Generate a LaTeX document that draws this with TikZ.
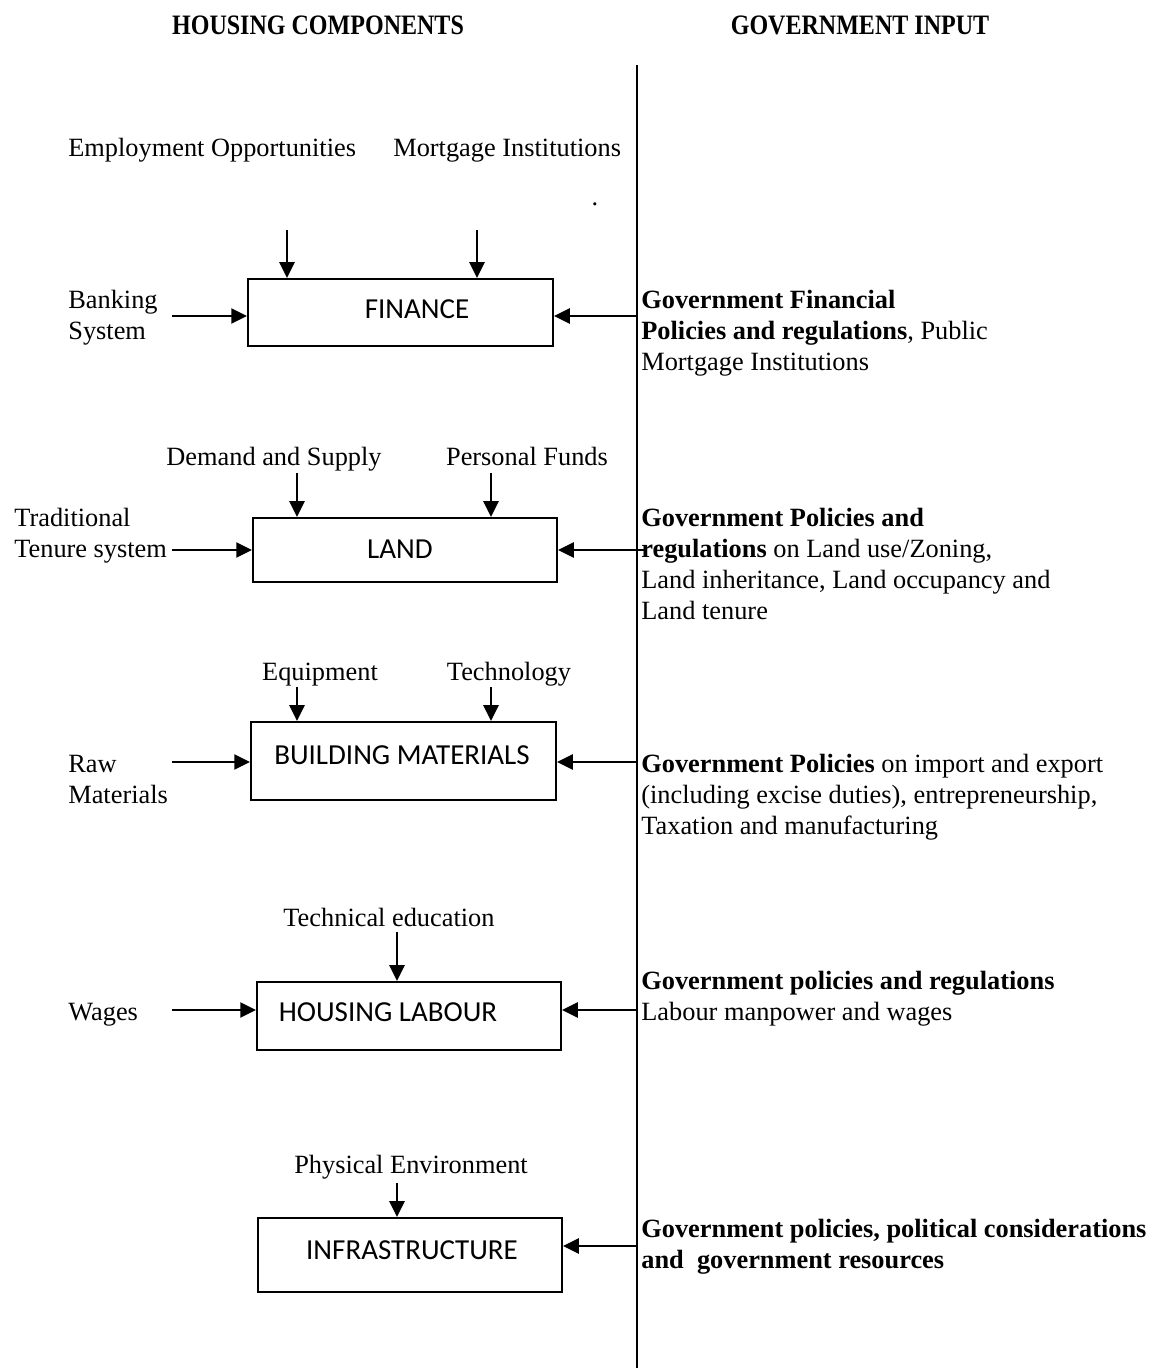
\documentclass[tikz,border=0pt]{standalone}
\usepackage{fontspec}
\usepackage{graphicx}
\setmainfont{Liberation Serif}
\newfontfamily\boxfont{Carlito}
\usetikzlibrary{arrows.meta}

\begin{document}
\begin{tikzpicture}[x=0.02cm,y=-0.02cm,
  txt/.style={font=\fontsize{15}{17.6}\selectfont, inner sep=0pt, text height=0.68em, text depth=0.22em},
  mtxt/.style={font=\fontsize{15}{17.6}\selectfont, inner sep=0pt, align=left, anchor=north west},
  head/.style={font=\fontsize{16}{18}\selectfont\bfseries, inner sep=0pt},
  comp/.style={draw, line width=1.1pt, inner sep=0pt},
  lbl/.style={font=\boxfont\fontsize{16.5}{20}\selectfont, inner sep=0pt},
  feed/.style={line width=1.3pt, -{Triangle[length=9pt,width=8.5pt]}},
]
\useasboundingbox (0,0) rectangle (1158,1370);

% column headings
\node[head] (hc) at (318,25) {\scalebox{0.855}[1]{HOUSING COMPONENTS}};
\node[head] (gi) at (860,25) {\scalebox{0.855}[1]{GOVERNMENT INPUT}};

% dividing line between the two columns
\coordinate (vtop) at (637,65);
\coordinate (vbot) at (637,1368);
\draw[line width=0.9pt] (vtop) -- (vbot);

% housing components
\node[comp, minimum width=6.10cm, minimum height=1.34cm] (fin)  at (400.5,312.5) {};
\node[comp, minimum width=6.08cm, minimum height=1.28cm] (land) at (405,550) {};
\node[comp, minimum width=6.10cm, minimum height=1.56cm] (bm)   at (403.5,761) {};
\node[comp, minimum width=6.08cm, minimum height=1.36cm] (lab)  at (409,1016) {};
\node[comp, minimum width=6.08cm, minimum height=1.48cm] (inf)  at (410,1255) {};

\node[lbl] (finT)  at (417,309)  {FINANCE};
\node[lbl] (landT) at (400,549)  {LAND};
\node[lbl] (bmT)   at (402,755)  {BUILDING MATERIALS};
\node[lbl] (labT)  at (388,1012) {HOUSING LABOUR};
\node[lbl] (infT)  at (412,1250) {INFRASTRUCTURE};

% ---------------- Finance ----------------
\node[txt, anchor=west] (emp) at (68,152)  {Employment Opportunities};
\node[txt, anchor=west] (mort) at (393,152) {Mortgage Institutions};
\node[txt] (dot) at (595,201) {.};
\node[mtxt] (bank) at (68,290) {Banking\\System};
\node[mtxt] (gfin) at (641,290) {\textbf{Government Financial}\\\textbf{Policies and regulations}, Public\\Mortgage Institutions};

\coordinate (a1) at (287,230);
\coordinate (a2) at (477,230);
\coordinate (a3) at (172,316);
\coordinate (a4) at (637,316);
\draw[feed] (a1) -- (a1 |- fin.north);
\draw[feed] (a2) -- (a2 |- fin.north);
\draw[feed] (a3) -- (a3 -| fin.west);
\draw[feed] (a4) -- (a4 -| fin.east);

% ---------------- Land ----------------
\node[txt] (dem) at (274,461) {Demand and Supply};
\node[txt] (pers) at (527,461) {Personal Funds};
\node[mtxt] (trad) at (14,508) {Traditional\\Tenure system};
\node[mtxt] (gland) at (641,508) {\textbf{Government Policies and}\\\textbf{regulations} on Land use/Zoning,\\Land inheritance, Land occupancy and\\Land tenure};

\coordinate (b1) at (297,473);
\coordinate (b2) at (491,473);
\coordinate (b3) at (172,550);
\coordinate (b4) at (645,550);
\draw[feed] (b1) -- (b1 |- land.north);
\draw[feed] (b2) -- (b2 |- land.north);
\draw[feed] (b3) -- (b3 -| land.west);
\draw[feed] (b4) -- (b4 -| land.east);

% ---------------- Building materials ----------------
\node[txt] (equip) at (320,676) {Equipment};
\node[txt] (tech) at (509,676) {Technology};
\node[mtxt] (raw) at (68,755) {Raw\\Materials};
\node[mtxt] (gbm) at (641,754) {\textbf{Government Policies} on import and export\\(including excise duties), entrepreneurship,\\Taxation and manufacturing};

\coordinate (c1) at (297,687);
\coordinate (c2) at (491,687);
\coordinate (c3) at (172,762);
\coordinate (c4) at (637,762);
\draw[feed] (c1) -- (c1 |- bm.north);
\draw[feed] (c2) -- (c2 |- bm.north);
\draw[feed] (c3) -- (c3 -| bm.west);
\draw[feed] (c4) -- (c4 -| bm.east);

% ---------------- Housing labour ----------------
\node[txt] (tedu) at (389,922) {Technical education};
\node[txt, anchor=west] (wages) at (68,1016) {Wages};
\node[mtxt] (glab) at (641,971) {\textbf{Government policies and regulations}\\Labour manpower and wages};

\coordinate (d1) at (397,932);
\coordinate (d3) at (172,1010);
\coordinate (d4) at (637,1010);
\draw[feed] (d1) -- (d1 |- lab.north);
\draw[feed] (d3) -- (d3 -| lab.west);
\draw[feed] (d4) -- (d4 -| lab.east);

% ---------------- Infrastructure ----------------
\node[txt] (phys) at (411,1169) {Physical Environment};
\node[mtxt] (ginf) at (641,1219) {\textbf{Government policies, political considerations}\\\textbf{and\ \ government resources}};

\coordinate (e1) at (397,1183);
\coordinate (e4) at (637,1246);
\draw[feed] (e1) -- (e1 |- inf.north);
\draw[feed] (e4) -- (e4 -| inf.east);

\end{tikzpicture}
\end{document}
